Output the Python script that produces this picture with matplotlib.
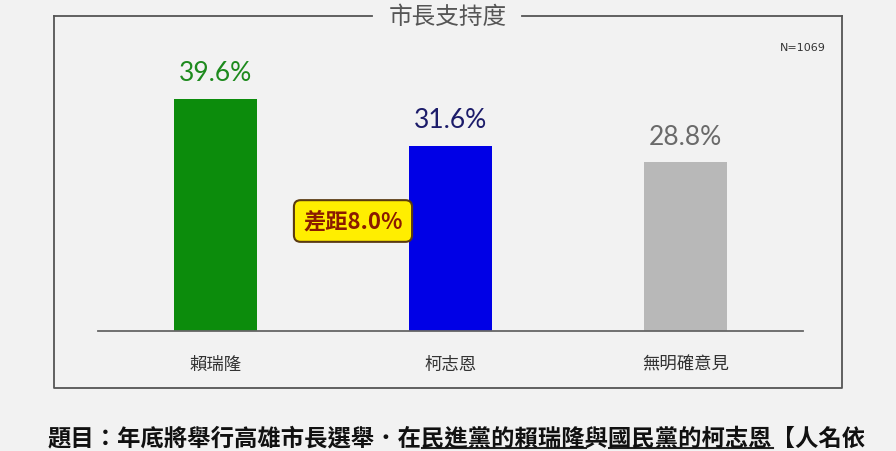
import matplotlib.pyplot as plt
from matplotlib.lines import Line2D

plt.rcParams['font.family'] = ['Noto Sans CJK TC', 'DejaVu Sans']

categories = ['賴瑞隆', '柯志恩', '無明確意見']
support = [39.6, 31.6, 28.8]
bar_colors = ['#0c8c0c', '#0000e6', '#b8b8b8']
label_colors = ['#1d8a1d', '#1c1c6a', '#6a6a6a']
title = '市長支持度'
sample = 'N=1069'
gap_text = '差距8.0%'
question = '題目：年底將舉行高雄市長選舉．在民進黨的賴瑞隆與國民黨的柯志恩【人名依'
underlined = ['民進黨的賴瑞隆', '國民黨的柯志恩']

W, H = 896, 452
bg = '#f2f2f2'
fig = plt.figure(figsize=(W / 100, H / 100), dpi=100, facecolor=bg)


def fx(x):
    return x / W


def fy(y):
    return 1 - y / H


# frame around the chart, with a gap for the title
frame_col = '#555555'
lw = 1.3
fig.add_artist(Line2D([fx(54), fx(54), fx(842), fx(842)],
                      [fy(17), fy(389), fy(389), fy(17)],
                      color=frame_col, lw=lw))
fig.add_artist(Line2D([fx(54), fx(372)], [fy(17), fy(17)], color=frame_col, lw=lw))
fig.add_artist(Line2D([fx(522), fx(842)], [fy(17), fy(17)], color=frame_col, lw=lw))
fig.text(fx(448), fy(18), title, ha='center', va='center', fontsize=17, color='#555555')
fig.text(fx(826), fy(48), sample, ha='right', va='center', fontsize=8, color='#333333',
         family=['Liberation Sans Narrow', 'DejaVu Sans'])

# bar chart
ax = fig.add_axes([fx(98), fy(332), (803 - 98) / W, (332 - 68) / H])
ax.set_facecolor('none')
x = range(len(categories))
ax.bar(x, support, width=0.357, color=bar_colors, zorder=2)
ax.set_xlim(-0.5, 2.5)
ax.set_ylim(0, 45)
for s in ['top', 'right', 'left']:
    ax.spines[s].set_visible(False)
ax.spines['bottom'].set_color('#666666')
ax.spines['bottom'].set_linewidth(1.3)
ax.set_yticks([])
ax.set_xticks(list(x))
ax.set_xticklabels(categories, fontsize=12.5, color='#333333')
ax.tick_params(axis='x', length=0, pad=17)
for i, v in enumerate(support):
    ax.text(i, v + 2.3, f'{v}%', ha='center', va='bottom', fontsize=19,
            color=label_colors[i], family=['Lato', 'DejaVu Sans'])

# gap annotation
fig.text(fx(353), fy(222), gap_text, ha='center', va='center', fontsize=16,
         fontweight='bold', color='#8a1a00',
         bbox=dict(boxstyle='round,pad=0.42,rounding_size=0.3', fc='#ffee00',
                   ec='#5a3a10', lw=1.5))

# question text
qt = fig.text(fx(48), fy(438), question, ha='left', va='center', fontsize=16.8,
              fontweight='bold', color='#111111')
fig.canvas.draw()
bb = qt.get_window_extent()
cw = bb.width / len(question)
for part in underlined:
    i0 = question.index(part)
    x0 = bb.x0 + i0 * cw
    x1 = bb.x0 + (i0 + len(part)) * cw
    fig.add_artist(Line2D([x0 / W, x1 / W], [fy(449), fy(449)], color='#222222', lw=1.5))

fig.savefig('out.png', dpi=100, facecolor=bg)
